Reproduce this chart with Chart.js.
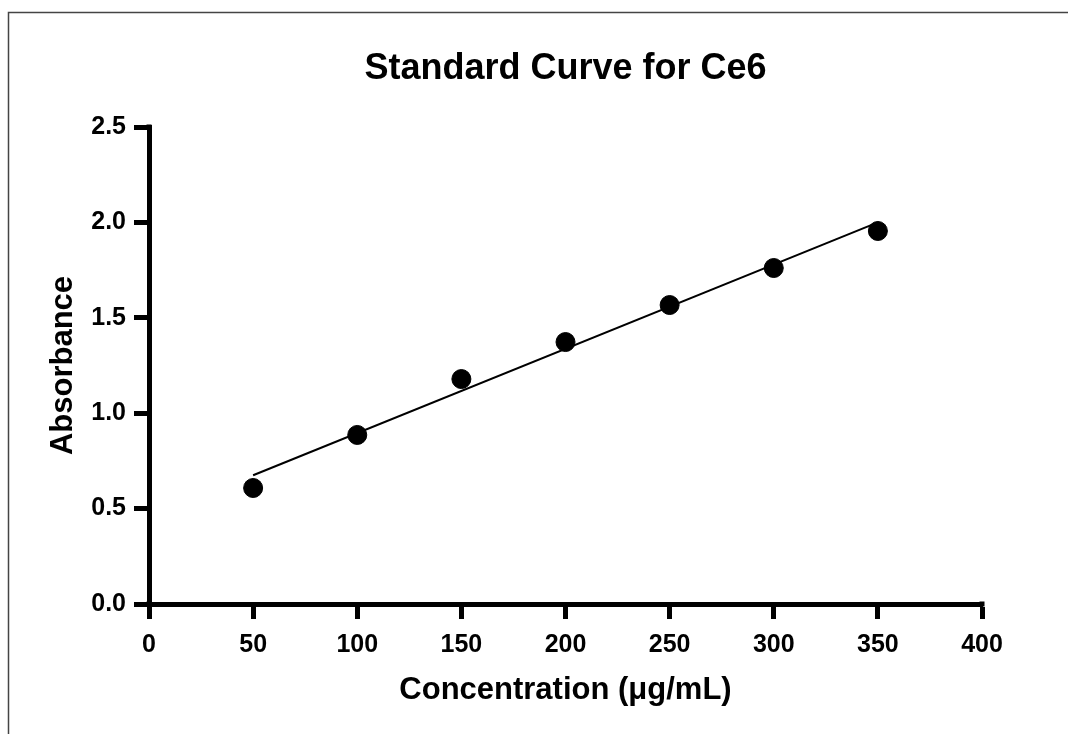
<!DOCTYPE html>
<html>
<head>
<meta charset="utf-8">
<script src="https://cdn.jsdelivr.net/npm/chart.js@4"></script>
<style>
  html, body { margin: 0; padding: 0; background: #fff; }
  #wrap { width: 1068px; height: 734px; position: relative; }
</style>
</head>
<body>
<div id="wrap"><canvas id="c" width="1068" height="734"></canvas></div>
<script>
const chartTitle = "Standard Curve for Ce6";
const xTitle = "Concentration (μg/mL)";
const yTitle = "Absorbance";
const concentrations = [50, 100, 150, 200, 250, 300, 350];
const absorbance = [0.608, 0.886, 1.179, 1.373, 1.567, 1.761, 1.955];
const fitX = [50, 350];
const fitY = [0.675, 2.0];

const FONT = "'Liberation Sans', Arial, Helvetica, sans-serif";

const pointData = concentrations.map((x, i) => ({ x: x, y: absorbance[i] }));
const fitData = fitX.map((x, i) => ({ x: x, y: fitY[i] }));

const framePlugin = {
  id: 'frame',
  beforeDraw(chart) {
    const ctx = chart.ctx;
    ctx.save();
    ctx.fillStyle = '#fff';
    ctx.fillRect(0, 0, chart.width, chart.height);
    ctx.strokeStyle = '#444';
    ctx.lineWidth = 1.5;
    ctx.beginPath();
    ctx.moveTo(1068, 12.5);
    ctx.lineTo(8.5, 12.5);
    ctx.lineTo(8.5, 734);
    ctx.stroke();
    ctx.restore();
  },
  afterDraw(chart) {
    const ctx = chart.ctx;
    const a = chart.chartArea;
    ctx.save();
    ctx.fillStyle = '#000';
    ctx.font = 'bold 36px ' + FONT;
    ctx.textAlign = 'center';
    ctx.textBaseline = 'alphabetic';
    ctx.fillText(chartTitle, (a.left + a.right) / 2, 79);
    ctx.fillRect(a.left - 2.5, a.top - 2.5, 5, 5);
    ctx.fillRect(a.left - 2.5, a.bottom - 2.5, 5, 5);
    ctx.fillRect(a.right - 2.5, a.bottom - 2.5, 5, 5);
    ctx.restore();
  }
};

new Chart(document.getElementById('c'), {
  type: 'scatter',
  data: {
    datasets: [
      {
        label: 'Absorbance',
        data: pointData,
        backgroundColor: '#000',
        borderColor: '#000',
        pointRadius: 9.5,
        pointHoverRadius: 9.5,
        showLine: false
      },
      {
        label: 'Fit',
        type: 'line',
        data: fitData,
        borderColor: '#000',
        borderWidth: 2,
        pointRadius: 0,
        fill: false,
        tension: 0
      }
    ]
  },
  plugins: [framePlugin],
  options: {
    responsive: false,
    animation: false,
    events: [],
    layout: { padding: { left: 0, right: 86, top: 127, bottom: 0 } },
    plugins: {
      legend: { display: false },
      title: { display: false },
      tooltip: { enabled: false }
    },
    scales: {
      x: {
        type: 'linear',
        min: 0,
        max: 400,
        afterFit(scale) { scale.height = 130; },
        ticks: {
          stepSize: 50,
          color: '#000',
          padding: 11,
          maxRotation: 0,
          font: { family: FONT, size: 25, weight: 'bold' }
        },
        grid: {
          drawOnChartArea: false,
          drawTicks: true,
          tickLength: 15,
          tickWidth: 5,
          tickColor: '#000'
        },
        border: { display: true, width: 5, color: '#000' },
        title: {
          display: true,
          text: xTitle,
          color: '#000',
          font: { family: FONT, size: 31, weight: 'bold' },
          padding: { top: 0, bottom: 25 }
        }
      },
      y: {
        type: 'linear',
        min: 0,
        max: 2.5,
        afterFit(scale) { scale.width = 149; },
        ticks: {
          stepSize: 0.5,
          color: '#000',
          padding: 8,
          callback: (v) => Number(v).toFixed(1),
          font: { family: FONT, size: 25, weight: 'bold' }
        },
        grid: {
          drawOnChartArea: false,
          drawTicks: true,
          tickLength: 15,
          tickWidth: 5,
          tickColor: '#000'
        },
        border: { display: true, width: 5, color: '#000' },
        title: {
          display: true,
          text: yTitle,
          color: '#000',
          font: { family: FONT, size: 31, weight: 'bold' },
          padding: { top: 45, bottom: 0 }
        }
      }
    }
  }
});
</script>
</body>
</html>
